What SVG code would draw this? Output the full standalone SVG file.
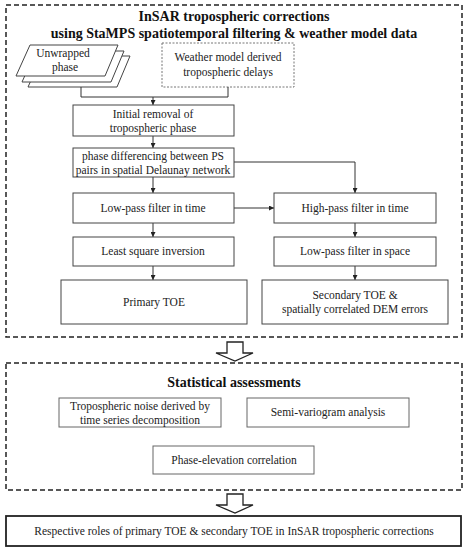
<svg xmlns="http://www.w3.org/2000/svg" width="468" height="550" viewBox="0 0 468 550">
<defs>
<style>
text{font-family:"Liberation Serif","Times New Roman",serif;font-size:11.5px;fill:#222;text-anchor:middle}
.title{font-weight:bold;font-size:14px;fill:#111}
.box{fill:#fff;stroke:#444;stroke-width:1}
.gbox{fill:#fff;stroke:#666;stroke-width:1}
.frame{fill:none;stroke:#222;stroke-width:1.5;stroke-dasharray:5 3}
.dot{fill:#fff;stroke:#777;stroke-width:1;stroke-dasharray:2 1.5}
.con{fill:none;stroke:#333;stroke-width:1}
.hollow{fill:#fff;stroke:#222;stroke-width:1.3}
</style>
<marker id="ah" viewBox="0 0 8 8" refX="8" refY="4" markerWidth="5" markerHeight="5" orient="auto">
<path d="M0,0 L8,4 L0,8 z" fill="#222"/>
</marker>
</defs>
<rect width="468" height="550" fill="#fff"/>

<g id="frame1">
<rect class="frame" x="6" y="5" width="456" height="332"/>
<text class="title" x="234" y="21">InSAR tropospheric corrections</text>
<text class="title" x="234" y="38">using StaMPS spatiotemporal filtering &amp; weather model data</text>
</g>

<g id="unwrapped">
<polygon class="box" points="42,56 130,56 117,87 28,87"/>
<polygon class="box" points="36,51 124,51 111,82 22,82"/>
<polygon class="box" points="30,45 118,45 105,76 16,76"/>
<text x="63" y="57">Unwrapped</text>
<text x="65" y="71">phase</text>
</g>

<g id="weather">
<rect class="dot" x="162" y="43" width="132" height="44"/>
<text x="228" y="61">Weather model derived</text>
<text x="228" y="76">tropospheric delays</text>
</g>

<g id="connectors">
<polyline class="con" points="81,87 81,97 228,97 228,87"/>
<line class="con" x1="153" y1="97" x2="153" y2="105" marker-end="url(#ah)"/>
<line class="con" x1="153" y1="136" x2="153" y2="148" marker-end="url(#ah)"/>
<polyline class="con" points="234,162 355,162 355,193" marker-end="url(#ah)"/>
<line class="con" x1="153" y1="177" x2="153" y2="193" marker-end="url(#ah)"/>
<line class="con" x1="234" y1="208" x2="274" y2="208" marker-end="url(#ah)"/>
<line class="con" x1="153" y1="223" x2="153" y2="237" marker-end="url(#ah)"/>
<line class="con" x1="355" y1="223" x2="355" y2="237" marker-end="url(#ah)"/>
<line class="con" x1="153" y1="266" x2="153" y2="280" marker-end="url(#ah)"/>
<line class="con" x1="355" y1="266" x2="355" y2="280" marker-end="url(#ah)"/>
<polygon class="hollow" points="227,342 243,342 243,353 253,353 235,361 216,353 227,353"/>
<polygon class="hollow" points="227,494 243,494 243,505 253,505 235,513 216,505 227,505"/>
</g>

<g id="initial">
<rect class="box" x="73" y="105" width="161" height="31"/>
<text x="153" y="118">Initial removal of</text>
<text x="153" y="132">tropospheric phase</text>
</g>

<g id="differencing">
<rect class="box" x="73" y="148" width="161" height="29"/>
<text x="153" y="160">phase differencing between PS</text>
<text x="153" y="174">pairs in spatial Delaunay network</text>
</g>

<g id="lowtime">
<rect class="box" x="73" y="193" width="161" height="30"/>
<text x="153" y="212">Low-pass filter in time</text>
</g>

<g id="hightime">
<rect class="box" x="274" y="193" width="162" height="30"/>
<text x="355" y="212">High-pass filter in time</text>
</g>

<g id="lsq">
<rect class="box" x="73" y="237" width="161" height="29"/>
<text x="153" y="255">Least square inversion</text>
</g>

<g id="lowspace">
<rect class="box" x="274" y="237" width="162" height="29"/>
<text x="355" y="255">Low-pass filter in space</text>
</g>

<g id="primary">
<rect class="box" x="61" y="280" width="186" height="44"/>
<text x="154" y="306">Primary TOE</text>
</g>

<g id="secondary">
<rect class="box" x="262" y="280" width="186" height="44"/>
<text x="355" y="299">Secondary TOE &amp;</text>
<text x="355" y="313">spatially correlated DEM errors</text>
</g>

<g id="frame2">
<rect class="frame" x="6" y="363" width="456" height="127"/>
<text class="title" x="234" y="387">Statistical assessments</text>
</g>

<g id="noise">
<rect class="gbox" x="59" y="398" width="162" height="29"/>
<text x="140" y="410">Tropospheric noise derived by</text>
<text x="140" y="424">time series decomposition</text>
</g>

<g id="semivar">
<rect class="gbox" x="247" y="398" width="162" height="29"/>
<text x="328" y="416">Semi-variogram analysis</text>
</g>

<g id="phaseelev">
<rect class="gbox" x="153" y="446" width="161" height="28"/>
<text x="234" y="464">Phase-elevation correlation</text>
</g>

<g id="roles">
<rect class="box" x="6" y="516" width="455" height="30" stroke-width="2" style="stroke:#222;stroke-width:1.8"/>
<text x="234" y="535">Respective roles of primary TOE &amp; secondary TOE in InSAR tropospheric corrections</text>
</g>
</svg>
